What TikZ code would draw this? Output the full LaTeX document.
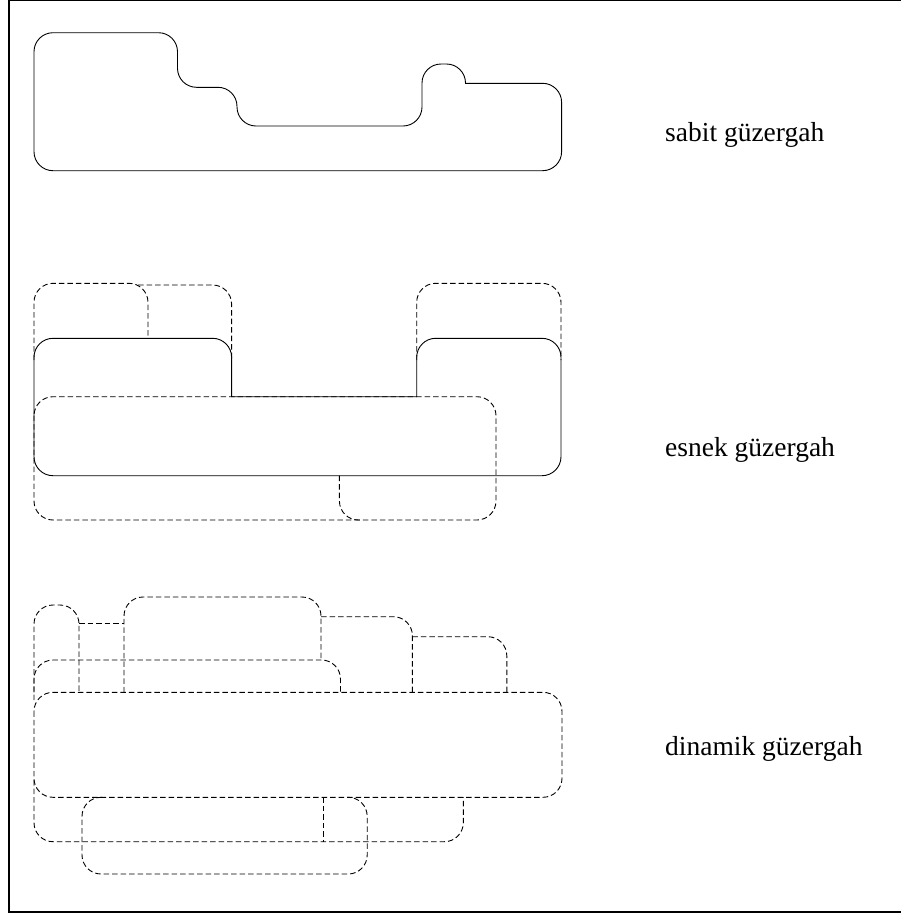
\documentclass[tikz,border=0pt]{standalone}
\usepackage{fontspec}
\setmainfont{Liberation Serif}
\tikzset{
  solidline/.style={line width=0.9pt, black},
  dashline/.style={line width=0.9pt, black, dash pattern=on 5.5pt off 3pt},
  frameline/.style={line width=2pt, black},
  lbl/.style={anchor=base west, inner sep=0pt, font=\fontsize{27.5}{33}\selectfont},
  rc/.style={rounded corners=19pt}
}
\begin{document}
\begin{tikzpicture}[x=1pt, y=-1pt]
\useasboundingbox (0,0) rectangle (901,916);
% frame
\draw[frameline] (903,0) -- (9,0) -- (9,911.7) -- (903,911.7);

% ---------- sabit ----------
\draw[solidline, rc] (34,170.7) -- (34,32.7) -- (177.5,32.7) -- (177.5,87.3)
  -- (237,87.3) -- (237,126) -- (422,126) -- (422,64) -- (465.5,64)
  [sharp corners] -- (465.5,83.3) [rounded corners=19pt] -- (561.6,83.3)
  -- (561.6,170.7) -- cycle;
\node[lbl] (sabit) at (665,141) {sabit güzergah};

% ---------- esnek ----------
\draw[dashline, rc] (34,360) -- (34,283.3) -- (148,283.3) -- (148,338.3);
\draw[dashline, rc] (138,285) -- (231.6,285) -- (231.6,360);
\draw[dashline, rc] (416.7,360) -- (416.7,283.3) -- (561,283.3) -- (561,360);
\draw[dashline, rc] (34,396.7) rectangle (496,520);
\draw[dashline, rc] (339.4,475.7) -- (339.4,520) -- (362,520);
\draw[solidline, rc] (34,475.7) -- (34,338.3) -- (231.6,338.3)
  [sharp corners] -- (231.6,396.7) -- (416.7,396.7) [rounded corners=19pt]
  -- (416.7,338.3) -- (561,338.3) -- (561,475.7) -- cycle;
\node[lbl] (esnek) at (665,456) {esnek güzergah};

% ---------- dinamik ----------
\draw[dashline, rc] (34,700) -- (34,605) -- (79,605) -- (79,692.3);
\draw[dashline] (79,623.3) -- (124,623.3);
\draw[dashline, rc] (124,692.3) -- (124,597) -- (321,597) -- (321,660);
\draw[dashline, rc] (321,616.7) -- (412.4,616.7) -- (412.4,692.3);
\draw[dashline, rc] (412.4,636.7) -- (506.8,636.7) -- (506.8,692.3);
\draw[dashline, rc] (34,692.3) -- (34,660) -- (340.5,660) -- (340.5,692.3);
\draw[dashline, rc] (34,692.3) rectangle (562,797.3);
\draw[dashline, rc] (34,780) -- (34,841.7) -- (463.3,841.7) -- (463.3,797.3);
\draw[dashline] (323.4,797.3) -- (323.4,841.7);
\draw[dashline, rc] (102,797.3) -- (82,797.3) -- (82,874) -- (367.2,874)
  -- (367.2,797.3) -- (347,797.3);
\node[lbl] (dinamik) at (665,755) {dinamik güzergah};
\end{tikzpicture}
\end{document}
